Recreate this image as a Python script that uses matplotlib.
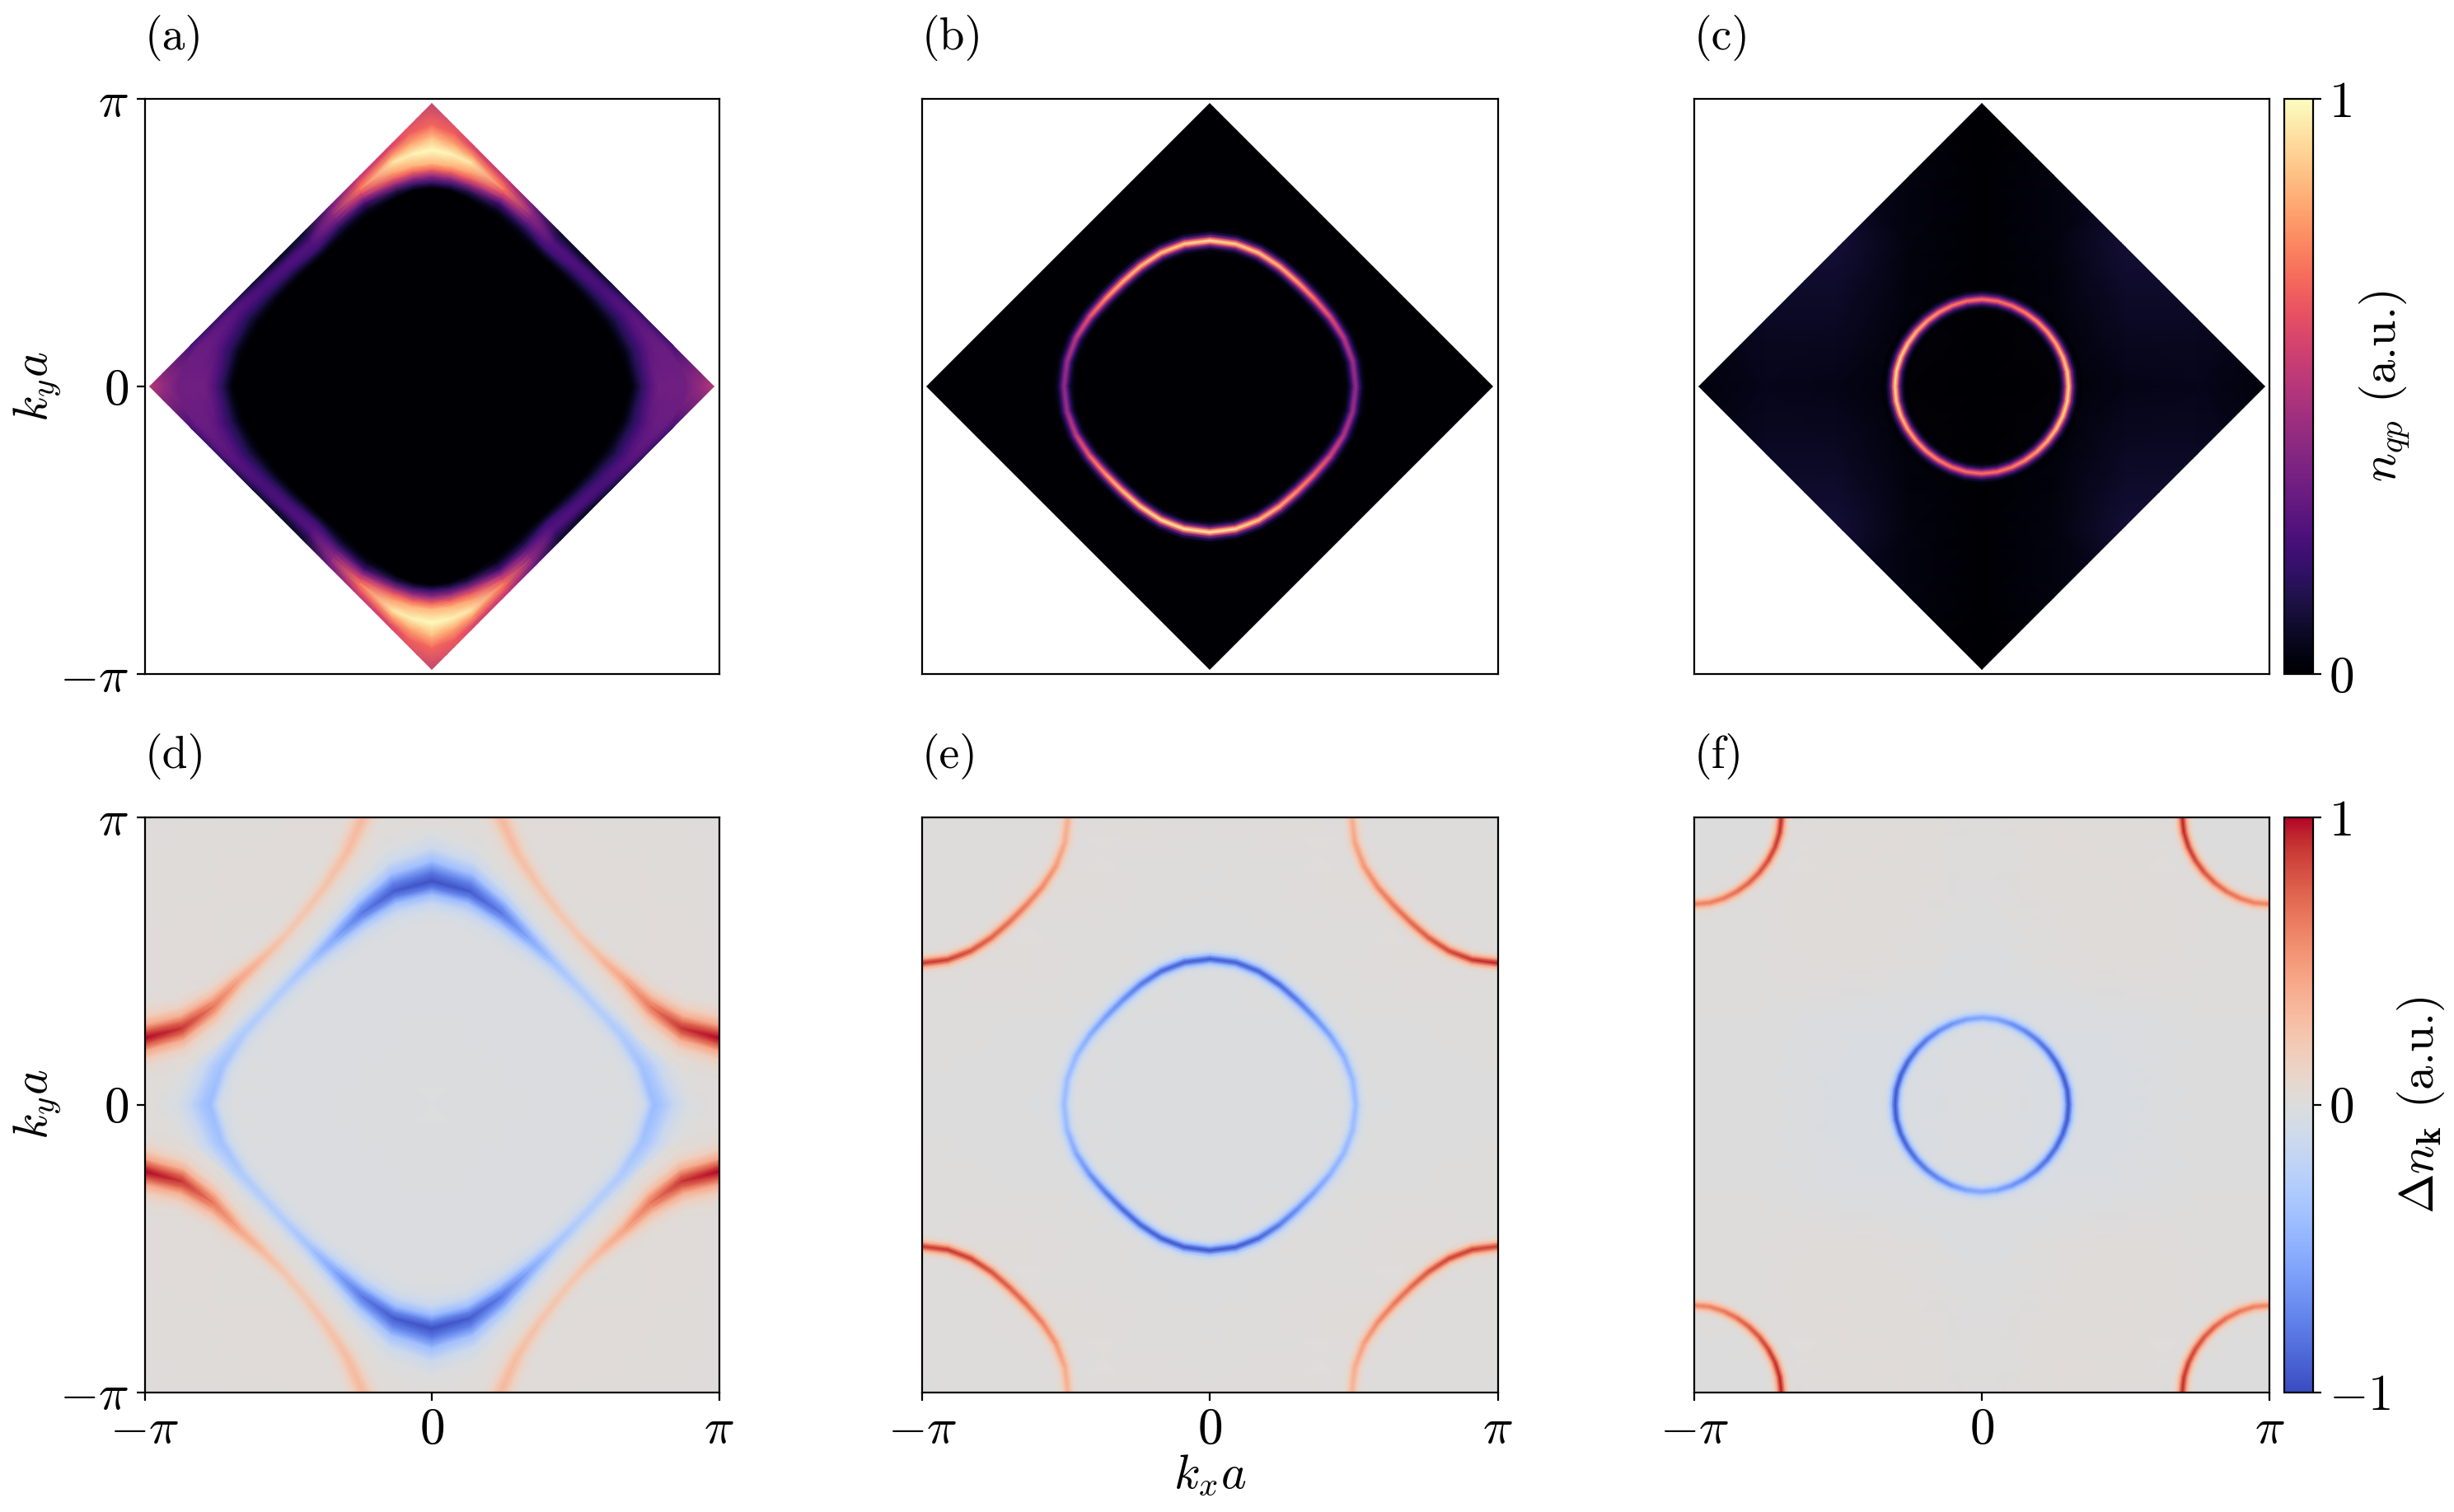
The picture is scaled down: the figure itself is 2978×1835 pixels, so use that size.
import numpy as np
import matplotlib
matplotlib.use('Agg')
import matplotlib.pyplot as plt
from matplotlib.patches import Polygon
from matplotlib.colors import Normalize
from matplotlib.cm import ScalarMappable

plt.rcParams['mathtext.fontset'] = 'cm'
plt.rcParams['font.family'] = 'cmr10'
plt.rcParams['axes.formatter.use_mathtext'] = True

THETA = list(range(0, 360, 10))
ALPHA = list(range(0, 100, 10))

# cross section of a ridge, from inner edge to outer edge
PROFILE_T = [-1, -.72, -.5, -.3, -.15, 0, .15, .3, .5, .72, 1]
PROFILE_V = [0, .03, .15, .42, .78, 1, .78, .42, .15, .03, 0]

# (a) quadrant table, one row per angle in A_THETA
A_THETA = [0, 10, 20, 30, 40, 50, 60, 70, 80, 85, 90]
A_RADII = [
    [0, .69, .705, .728, .755, .79, .83, .886, .934, 1.05],
    [0, .665, .685, .71, .735, .76, .785, .82, .85, .95],
    [0, .635, .655, .68, .70, .72, .735, .75, .77, .85],
    [0, .61, .625, .645, .66, .675, .69, .70, .72, .80],
    [0, .595, .61, .63, .64, .65, .66, .67, .69, .80],
    [0, .59, .605, .62, .635, .645, .655, .665, .69, .80],
    [0, .60, .62, .64, .66, .675, .69, .70, .715, .80],
    [0, .635, .655, .68, .70, .715, .73, .745, .76, .85],
    [0, .67, .69, .715, .735, .755, .79, .815, .84, .95],
    [0, .685, .703, .728, .75, .77, .81, .85, .885, 1.0],
    [0, .69, .708, .733, .756, .776, .822, .87, .91, 1.05],
]
A_VALUES = [
    [0, 0, .05, .15, .25, .33, .33, .33, .42, .60],
    [0, 0, .05, .15, .22, .28, .31, .31, .22, .20],
    [0, 0, .05, .14, .20, .25, .27, .26, .16, .12],
    [0, 0, .05, .14, .20, .23, .23, .20, .10, .05],
    [0, 0, .07, .18, .22, .24, .24, .22, .08, .03],
    [0, 0, .08, .20, .24, .25, .25, .22, .10, .03],
    [0, 0, .05, .15, .30, .37, .41, .40, .32, .30],
    [0, 0, .06, .22, .45, .60, .72, .66, .55, .45],
    [0, 0, .13, .42, .65, .80, .95, .78, .60, .50],
    [0, 0, .17, .43, .68, .84, .98, .80, .66, .50],
    [0, 0, .18, .42, .68, .85, 1.0, .85, .68, .42],
]

# (b)/(e) Fermi surface, (c)/(f) smaller one, quadrant 0..90 deg
RIDGE_BE = [.507, .504, .495, .483, .474, .474, .483, .495, .504, .507]
RIDGE_CF = [.302, .302, .300, .298, .297, .297, .298, .300, .302, .303]

PEAK_B = [.42, .45, .52, .62, .72, .82, .86, .90, .92, .95, .92, .90, .88, .85, .78, .65, .52, .45,
          .42, .45, .55, .68, .80, .88, .92, .95, .96, .97, .95, .90, .85, .78, .70, .60, .50, .45]
PEAK_C = [.93, .92, .88, .84, .80, .78, .75, .72, .72, .72, .72, .74, .78, .82, .86, .90, .92, .93,
          .93, .92, .88, .84, .80, .78, .75, .72, .72, .72, .72, .74, .78, .82, .86, .90, .92, .93]
PEAK_E = [-.42, -.44, -.50, -.58, -.68, -.80, -.88, -.90, -.92, -.92, -.92, -.88, -.80, -.70, -.62, -.52, -.45, -.42,
          -.42, -.44, -.55, -.68, -.80, -.88, -.90, -.93, -.95, -.95, -.95, -.90, -.80, -.70, -.60, -.50, -.45, -.42]
PEAK_F = [-.95, -.95, -.93, -.90, -.86, -.80, -.75, -.68, -.60, -.57, -.60, -.66, -.72, -.80, -.85, -.90, -.93, -.95,
          -.95, -.95, -.92, -.90, -.85, -.80, -.75, -.68, -.60, -.57, -.60, -.66, -.72, -.80, -.85, -.88, -.92, -.95]

# red arcs around the corners, ALPHA counted from the vertical zone edge
ARC_PEAK_E_TR = [.95, .92, .85, .78, .72, .66, .60, .52, .45, .38]
ARC_PEAK_E_TL = [.90, .88, .82, .75, .70, .64, .58, .50, .42, .38]
ARC_PEAK_E_BL = [.88, .90, .88, .82, .76, .70, .62, .52, .42, .36]
ARC_PEAK_E_BR = [.85, .88, .86, .80, .72, .65, .58, .48, .40, .35]
ARC_PEAK_F_TR = [.60, .62, .66, .70, .76, .82, .86, .90, .94, .96]
ARC_PEAK_F_TL = [.62, .62, .66, .70, .75, .80, .85, .88, .92, .93]
ARC_PEAK_F_BL = [.60, .62, .66, .72, .78, .82, .88, .92, .95, .96]
ARC_PEAK_F_BR = [.60, .62, .66, .70, .76, .80, .85, .88, .92, .93]

# (d) blue ridge, quadrant 0..90 deg
D_BLUE_RIDGE = [.775, .745, .705, .668, .652, .653, .672, .71, .755, .778]
D_BLUE_PEAK = [-.42, -.38, -.30, -.27, -.29, -.37, -.56, -.80, -.93, -.98]
D_BLUE_WIN = [.08, .08, .08, .075, .075, .08, .10, .12, .14, .15]
D_BLUE_WOUT = [.22, .18, .11, .08, .075, .08, .10, .14, .20, .23]

# (d) red arcs
D_RED_RIDGE = [.768, .745, .70, .655, .64, .64, .65, .675, .715, .76]
D_RED_PEAK = [1.0, .90, .65, .45, .33, .24, .24, .26, .30, .33]
D_RED_WIDTH = [.15, .14, .115, .085, .065, .058, .06, .07, .085, .10]

# slow backgrounds on a 9x9 grid, -pi..pi
BG_C = [
    [0, 0, 0, 0, 0, 0, 0, 0, 0],
    [.03, .03, .03, .03, 0, .03, .03, .03, .03],
    [.10, .10, .10, .03, 0, .03, .10, .10, .10],
    [.03, .07, .07, .02, 0, .02, .07, .07, .03],
    [.02, .05, .04, .01, 0, .01, .04, .05, .02],
    [.03, .07, .07, .02, 0, .02, .07, .07, .03],
    [.10, .10, .10, .03, 0, .03, .10, .10, .10],
    [.03, .03, .03, .03, 0, .03, .03, .03, .03],
    [0, 0, 0, 0, 0, 0, 0, 0, 0],
]
BG_D = [
    [.01, .02, .03, .03, .02, .03, .03, .02, .01],
    [.02, .03, .03, .01, -.01, .01, .03, .03, .02],
    [.03, .03, -.01, -.02, -.02, -.02, -.01, .03, .03],
    [.03, .01, -.02, -.02, -.015, -.02, -.02, .01, .03],
    [.02, -.01, -.02, -.015, -.005, -.015, -.02, -.01, .02],
    [.03, .01, -.02, -.02, -.015, -.02, -.02, .01, .03],
    [.03, .03, -.01, -.02, -.02, -.02, -.01, .03, .03],
    [.02, .03, .03, .01, -.01, .01, .03, .03, .02],
    [.01, .02, .03, .03, .02, .03, .03, .02, .01],
]
BG_E = [
    [0, .01, .01, .02, .01, .02, .01, .01, 0],
    [.01, .01, .02, .01, 0, .01, .02, .01, .01],
    [.01, .02, .01, 0, -.01, 0, .01, .02, .01],
    [.01, 0, 0, -.01, -.01, -.01, 0, 0, .01],
    [0, 0, -.01, -.01, -.01, -.01, -.01, 0, 0],
    [.01, 0, 0, -.01, -.01, -.01, 0, 0, .01],
    [.01, .02, .01, 0, -.01, 0, .01, .02, .01],
    [.01, .01, .02, .01, 0, .01, .02, .01, .01],
    [0, .01, .01, .02, .01, .02, .01, .01, 0],
]
BG_F = [
    [0, 0, .02, .03, 0, .03, .02, 0, 0],
    [0, .01, .03, .02, 0, .02, .03, .01, 0],
    [.01, .01, .02, .01, -.01, .01, .02, .01, .01],
    [0, 0, -.02, -.03, -.02, -.03, -.02, 0, 0],
    [0, 0, -.03, -.03, -.01, -.03, -.03, 0, 0],
    [0, 0, -.02, -.03, -.02, -.03, -.02, 0, 0],
    [.01, .01, .02, .01, -.01, .01, .02, .01, .01],
    [0, .01, .03, .02, 0, .02, .03, .01, 0],
    [0, 0, .02, .03, 0, .03, .02, 0, 0],
]

TURN = list(range(10)) + list(range(8, -1, -1)) + list(range(1, 10)) + list(range(8, 0, -1))
ZONE = 0.985 * np.pi


def full_turn(quadrant):
    return np.asarray(quadrant, float)[TURN]


def close(values):
    values = np.asarray(values, float)
    return np.concatenate([values, values[:1]])


def draw_mesh(ax, X, Y, C, cmap, vmin, vmax, diamond):
    m = ax.pcolormesh(X, Y, C, shading='gouraud', cmap=cmap, vmin=vmin, vmax=vmax)
    if diamond:
        p = Polygon([(ZONE, 0), (0, ZONE), (-ZONE, 0), (0, -ZONE)], transform=ax.transData)
        m.set_clip_path(p)
    return m


def draw_background(ax, table, cmap, vmin, vmax, diamond=False):
    grid = np.linspace(-np.pi, np.pi, len(table))
    X, Y = np.meshgrid(grid, grid)
    draw_mesh(ax, X, Y, np.array(table), cmap, vmin, vmax, diamond)


def draw_band(ax, cx, cy, theta, ridge, peak, w_in, w_out, base_in, base_out, cmap, vmin, vmax, diamond=False):
    th = np.radians(np.asarray(theta, float))[:, None]
    t = np.array(PROFILE_T)[None, :]
    shape = np.array(PROFILE_V)[None, :]
    w_in = np.broadcast_to(w_in, th.shape[:1])[:, None]
    w_out = np.broadcast_to(w_out, th.shape[:1])[:, None]
    w = np.where(t < 0, w_in, w_out)
    r = (np.asarray(ridge)[:, None] + t * w) * np.pi
    base = np.where(t < 0, base_in, base_out)
    C = base + (np.asarray(peak)[:, None] - base) * shape
    X = cx * np.pi + r * np.cos(th)
    Y = cy * np.pi + r * np.sin(th)
    draw_mesh(ax, X, Y, C, cmap, vmin, vmax, diamond)


def draw_ring(ax, ridge_quadrant, peak, width, base_in, base_out, cmap, vmin, vmax, diamond=False):
    theta = list(THETA) + [360]
    draw_band(ax, 0, 0, theta, close(full_turn(ridge_quadrant)), close(peak), width, width,
              base_in, base_out, cmap, vmin, vmax, diamond)


def draw_arc(ax, corner, ridge, peak, width, base):
    # corner: (sign x, sign y); alpha runs from the vertical edge to the horizontal one
    sx, sy = corner
    a = np.array(ALPHA, float)
    start = 270 if sy > 0 else 90
    theta = start - sx * sy * a
    draw_band(ax, sx, sy, theta, ridge, peak, width, width, base, base, 'coolwarm', -1, 1)


def px_axes(fig, x0, x1, y0, y1):
    W, H = 2978, 1835
    return fig.add_axes([x0 / W, 1 - y1 / H, (x1 - x0) / W, (y1 - y0) / H])


fig = plt.figure(figsize=(14.89, 9.175), dpi=200)
FS = 20
TICK_FS = 22
cols = [(175.5, 872.5), (1119, 1817.5), (2056, 2754)]
rows = [(120, 818), (992, 1689.5)]
axes = [px_axes(fig, c[0], c[1], r[0], r[1]) for r in rows for c in cols]
cax_top = px_axes(fig, 2772, 2807, 120, 818)
cax_bot = px_axes(fig, 2772, 2807, 992, 1689.5)
labels = ['a', 'b', 'c', 'd', 'e', 'f']

# (a), mirrored from the first quadrant
n = len(A_THETA)
a_th = np.array(A_THETA, float)
th_a = np.concatenate([a_th, 180 - a_th[-2::-1], 180 + a_th[1:], 360 - a_th[-2::-1]])
idx = list(range(n)) + list(range(n - 2, -1, -1)) + list(range(1, n)) + list(range(n - 2, -1, -1))
r_a = np.array(A_RADII)[idx] * np.pi
v_a = np.array(A_VALUES)[idx]
th_a = np.radians(th_a)[:, None]
draw_mesh(axes[0], r_a * np.cos(th_a), r_a * np.sin(th_a), v_a, 'magma', 0, 1, True)

# (b)
bg0 = np.zeros((2, 2))
g = [-np.pi, np.pi]
draw_mesh(axes[1], *np.meshgrid(g, g), bg0, 'magma', 0, 1, True)
draw_ring(axes[1], RIDGE_BE, PEAK_B, .048, 0, 0, 'magma', 0, 1, True)

# (c)
draw_background(axes[2], BG_C, 'magma', 0, 1, True)
draw_ring(axes[2], RIDGE_CF, PEAK_C, .045, 0, .005, 'magma', 0, 1, True)

# (d)
draw_background(axes[3], BG_D, 'coolwarm', -1, 1)
theta_full = list(THETA) + [360]
draw_band(axes[3], 0, 0, theta_full, close(full_turn(D_BLUE_RIDGE)), close(full_turn(D_BLUE_PEAK)),
          close(full_turn(D_BLUE_WIN)), close(full_turn(D_BLUE_WOUT)), -.02, .02, 'coolwarm', -1, 1)
for corner in [(1, 1), (-1, 1), (-1, -1), (1, -1)]:
    draw_arc(axes[3], corner, D_RED_RIDGE, D_RED_PEAK, D_RED_WIDTH, .02)

# (e)
draw_background(axes[4], BG_E, 'coolwarm', -1, 1)
draw_ring(axes[4], RIDGE_BE, PEAK_E, .05, -.01, -.01, 'coolwarm', -1, 1)
for corner, pk in [((1, 1), ARC_PEAK_E_TR), ((-1, 1), ARC_PEAK_E_TL),
                   ((-1, -1), ARC_PEAK_E_BL), ((1, -1), ARC_PEAK_E_BR)]:
    draw_arc(axes[4], corner, RIDGE_BE, pk, .05, .01)

# (f)
draw_background(axes[5], BG_F, 'coolwarm', -1, 1)
draw_ring(axes[5], RIDGE_CF, PEAK_F, .047, -.01, -.02, 'coolwarm', -1, 1)
for corner, pk in [((1, 1), ARC_PEAK_F_TR), ((-1, 1), ARC_PEAK_F_TL),
                   ((-1, -1), ARC_PEAK_F_BL), ((1, -1), ARC_PEAK_F_BR)]:
    draw_arc(axes[5], corner, RIDGE_CF, pk, .047, 0)

for i, ax in enumerate(axes):
    ax.set_xlim(-np.pi, np.pi)
    ax.set_ylim(-np.pi, np.pi)
    ax.tick_params(labelsize=TICK_FS)
    if i >= 3:
        ax.set_xticks([-np.pi, 0, np.pi], [r'$-\pi$', r'$0$', r'$\pi$'])
    else:
        ax.set_xticks([])
    if i % 3 == 0:
        ax.set_yticks([-np.pi, 0, np.pi], [r'$-\pi$', r'$0$', r'$\pi$'])
        ax.set_ylabel(r'$k_y a$', fontsize=FS + 1)
        ax.yaxis.set_label_coords(-0.142, 0.5)
    else:
        ax.set_yticks([])
    ax.text(0, 1.106, '(%s)' % labels[i], transform=ax.transAxes, fontsize=FS, va='center', ha='left')

axes[4].set_xlabel(r'$k_x a$', fontsize=FS + 1)
axes[4].xaxis.set_label_coords(0.5, -0.106)

cb1 = fig.colorbar(ScalarMappable(Normalize(0, 1), 'magma'), cax=cax_top, ticks=[0, 1])
cb1.ax.set_yticklabels([r'$0$', r'$1$'], fontsize=TICK_FS)
cb1.set_label(r'$n_{qp}$ (a.u.)', fontsize=FS + 1)
cb1.ax.yaxis.set_label_coords(2.54, 0.5)

cb2 = fig.colorbar(ScalarMappable(Normalize(-1, 1), 'coolwarm'), cax=cax_bot, ticks=[-1, 0, 1])
cb2.ax.set_yticklabels([r'$-1$', r'$0$', r'$1$'], fontsize=TICK_FS)
cb2.set_label(r'$\Delta n_{\mathbf{k}}$ (a.u.)', fontsize=FS + 1)
cb2.ax.yaxis.set_label_coords(3.85, 0.5)

fig.savefig('out.png', dpi=200)
